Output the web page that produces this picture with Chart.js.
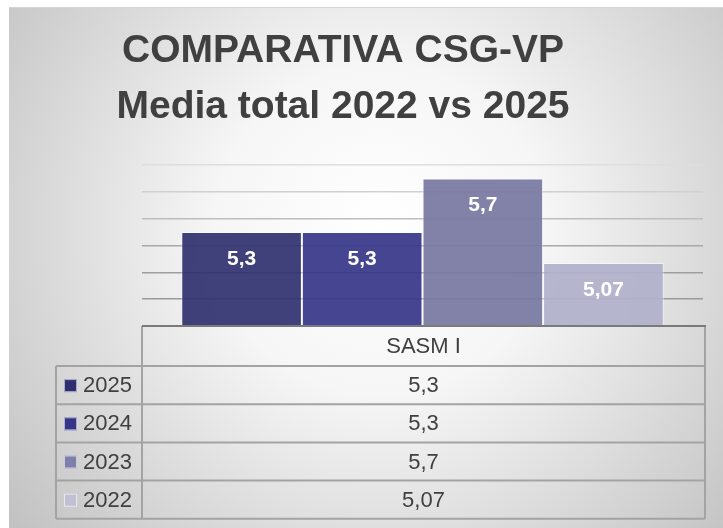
<!DOCTYPE html>
<html>
<head>
<meta charset="utf-8">
<script src="https://cdn.jsdelivr.net/npm/chart.js@4"></script>
<style>
  html, body { margin: 0; padding: 0; background: #fff; }
  #wrap { width: 723px; height: 528px; }
</style>
</head>
<body>
<div id="wrap"><canvas id="chart"></canvas></div>
<script>
// chart data
const categories = ['SASM I'];
const seriesNames = ['2025', '2024', '2023', '2022'];
const values2025 = [5.3];
const values2024 = [5.3];
const values2023 = [5.7];
const values2022 = [5.07];
const titleLines = ['COMPARATIVA CSG-VP', 'Media total 2022 vs 2025'];

// axis range (hidden ticks, gridlines only)
const yMin = 4.6;
const yMax = 5.8;
const yStep = 0.2;

// colours for each series
const barColors = ['rgba(50,50,112,0.93)', 'rgba(55,55,138,0.93)', 'rgba(120,120,162,0.93)', 'rgba(176,176,202,0.93)'];
const keyColors = ['#2f2f70', '#35358a', '#7f7fab', '#c0c0d4'];

const seriesValues = [values2025, values2024, values2023, values2022];

// comma decimals like the original
function fmt(v) {
  return String(v).replace('.', ',');
}

// grey radial background + title
const backgroundPlugin = {
  id: 'bg',
  beforeDraw(chart) {
    const ctx = chart.ctx;
    ctx.save();
    const g = ctx.createRadialGradient(380, 230, 0, 380, 230, 470);
    g.addColorStop(0, '#ffffff');
    g.addColorStop(0.35, '#f6f6f6');
    g.addColorStop(1, '#c2c2c2');
    ctx.fillStyle = g;
    ctx.fillRect(9, 7, chart.width - 9, chart.height - 7);
    ctx.strokeStyle = '#d4d4d4';
    ctx.lineWidth = 1;
    ctx.beginPath();
    ctx.moveTo(9, 7.5);
    ctx.lineTo(chart.width, 7.5);
    ctx.stroke();

    ctx.fillStyle = '#404040';
    ctx.font = 'bold 39px "Liberation Sans", Arial, sans-serif';
    ctx.textAlign = 'center';
    ctx.textBaseline = 'middle';
    ctx.fillText(titleLines[0], 343, 51);
    ctx.fillText(titleLines[1], 343, 107);
    ctx.restore();
  }
};

// white value labels inside the bars
const labelPlugin = {
  id: 'barLabels',
  afterDatasetsDraw(chart) {
    const ctx = chart.ctx;
    ctx.save();
    ctx.fillStyle = '#ffffff';
    ctx.font = 'bold 21px "Liberation Sans", Arial, sans-serif';
    ctx.textAlign = 'center';
    ctx.textBaseline = 'middle';
    chart.data.datasets.forEach((ds, i) => {
      chart.getDatasetMeta(i).data.forEach((bar, j) => {
        ctx.fillText(fmt(ds.data[j]), bar.x, bar.y + 27);
      });
    });
    ctx.restore();
  }
};

// data table with legend keys under the plot
const tablePlugin = {
  id: 'dataTable',
  afterDraw(chart) {
    const ctx = chart.ctx;
    const area = chart.chartArea;
    const x0 = 56;
    const x1 = area.left;
    const x2 = area.right + 2;
    const top = area.bottom;
    const headH = 40;
    const rowH = 38.2;
    const rows = chart.data.datasets.length;
    const bottom = top + headH + rows * rowH;

    ctx.save();
    ctx.strokeStyle = '#a3a3a3';
    ctx.lineWidth = 2;
    ctx.beginPath();
    ctx.moveTo(x1, top); ctx.lineTo(x1, bottom);
    ctx.moveTo(x2, top); ctx.lineTo(x2, bottom);
    ctx.moveTo(x0, top + headH); ctx.lineTo(x0, bottom);
    for (let r = 0; r <= rows; r++) {
      const y = top + headH + r * rowH;
      ctx.moveTo(x0, y); ctx.lineTo(x2, y);
    }
    ctx.stroke();

    // axis line
    ctx.strokeStyle = '#7a7a7a';
    ctx.lineWidth = 2;
    ctx.beginPath();
    ctx.moveTo(x1, top); ctx.lineTo(x2 + 1, top);
    ctx.stroke();

    ctx.fillStyle = '#404040';
    ctx.font = '22px "Liberation Sans", Arial, sans-serif';
    ctx.textBaseline = 'middle';
    ctx.textAlign = 'center';
    const cx = (x1 + x2) / 2;
    ctx.fillText(chart.data.labels[0], cx, top + headH / 2 + 1);

    chart.data.datasets.forEach((ds, i) => {
      const yc = top + headH + i * rowH + rowH / 2;
      ctx.fillStyle = keyColors[i];
      ctx.fillRect(64, yc - 6, 13, 13);
      ctx.strokeStyle = 'rgba(255,255,255,0.6)';
      ctx.lineWidth = 1;
      ctx.strokeRect(64.5, yc - 5.5, 12, 12);
      ctx.fillStyle = '#404040';
      ctx.textAlign = 'left';
      ctx.fillText(ds.label, 83, yc + 1);
      ctx.textAlign = 'center';
      ctx.fillText(fmt(ds.data[0]), cx, yc + 1);
    });
    ctx.restore();
  }
};

const gridColors = ['rgba(0,0,0,0)', '#9a9a9a', '#9e9e9e', '#a8a8a8', '#bdbdbd', '#d0d0d0', '#dedede'];

const canvas = document.getElementById('chart');
const chart = new Chart(canvas, {
  type: 'bar',
  data: {
    labels: categories,
    datasets: seriesNames.map((name, i) => ({
      label: name,
      data: seriesValues[i],
      backgroundColor: barColors[i],
      borderColor: 'rgba(255,255,255,0.55)',
      borderWidth: 1,
      categoryPercentage: 0.86,
      barPercentage: 1.0
    }))
  },
  options: {
    responsive: true,
    maintainAspectRatio: false,
    animation: false,
    layout: {
      padding: { left: 142, right: 20, top: 165, bottom: 202 }
    },
    plugins: {
      legend: { display: false },
      title: { display: false },
      tooltip: { enabled: false }
    },
    scales: {
      x: { display: false },
      y: {
        min: yMin,
        max: yMax,
        ticks: { display: false, stepSize: yStep },
        border: { display: false },
        grid: {
          drawTicks: false,
          lineWidth: 1.5,
          color: (c) => gridColors[c.index] || '#dedede'
        }
      }
    }
  },
  plugins: [backgroundPlugin, labelPlugin, tablePlugin]
});
</script>
</body>
</html>
